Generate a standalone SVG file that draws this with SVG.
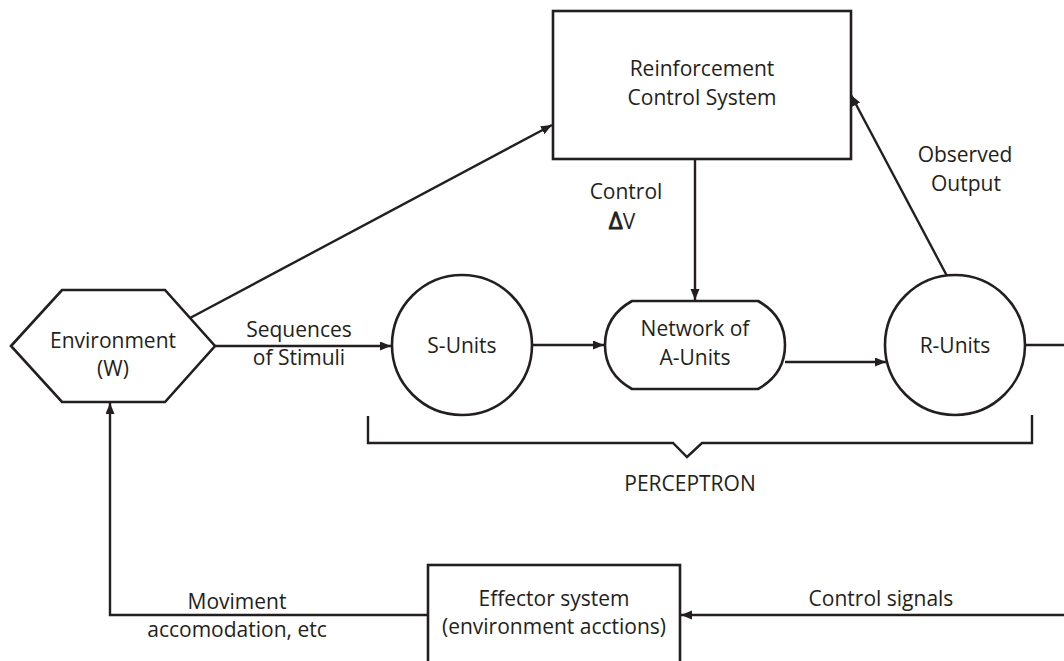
<svg xmlns="http://www.w3.org/2000/svg" width="1064" height="661" viewBox="0 0 1064 661">
  <defs>
    <marker id="arrow" markerUnits="userSpaceOnUse" markerWidth="12" markerHeight="10" refX="11" refY="4.5" orient="auto">
      <path d="M0,0 L11,4.5 L0,9 Z" fill="#231f20"/>
    </marker>
    <style>
      .shape { fill: #ffffff; stroke: #231f20; stroke-width: 2.6; }
      .line { fill: none; stroke: #231f20; stroke-width: 2.4; }
      .arrow { marker-end: url(#arrow); }
      text { font-family: "Open Sans", "Noto Sans", "Liberation Sans", sans-serif; font-size: 21px; fill: #231f20; text-anchor: middle; }
      .delta { font-size: 24px; stroke: #231f20; stroke-width: 0.9; }
    </style>
  </defs>
  <rect width="1064" height="661" fill="#ffffff"/>

  <!-- connectors -->
  <g id="connectors">
    <line class="line arrow" x1="190" y1="318" x2="552" y2="125"/>
    <line class="line arrow" x1="215" y1="346" x2="391" y2="346"/>
    <line class="line arrow" x1="532" y1="345" x2="604" y2="345"/>
    <line class="line arrow" x1="695" y1="159" x2="695" y2="300"/>
    <line class="line arrow" x1="785" y1="362" x2="886" y2="362"/>
    <line class="line arrow" x1="947" y1="276" x2="851" y2="95"/>
    <path class="line arrow" d="M1025,345 H1075 V615 H681"/>
    <path class="line arrow" d="M428,615 H110 V403"/>
    <!-- perceptron bracket -->
    <path class="line" d="M368,416 V443 H673 L687,457 L702,443 H1032 V415"/>
  </g>

  <!-- edge labels -->
  <g id="labels">
    <text x="626" y="199">Control</text>
    <text x="622" y="229"><tspan class="delta">Δ</tspan>V</text>
    <text x="299" y="337">Sequences</text>
    <text x="299" y="365">of Stimuli</text>
    <text x="965" y="162">Observed</text>
    <text x="966" y="191">Output</text>
    <text x="690" y="491">PERCEPTRON</text>
    <text x="237" y="609">Moviment</text>
    <text x="237" y="637">accomodation, etc</text>
    <text x="881" y="606">Control signals</text>
  </g>

  <g id="environment">
    <polygon class="shape" points="11,346 62,290 165,290 215,346 165,402 62,402"/>
    <text x="113" y="348">Environment</text>
    <text x="113" y="376">(W)</text>
  </g>

  <g id="reinforcement">
    <rect class="shape" x="553" y="11" width="298" height="148"/>
    <text x="702" y="76">Reinforcement</text>
    <text x="702" y="105">Control System</text>
  </g>

  <g id="s-units">
    <circle class="shape" cx="462" cy="345" r="70"/>
    <text x="462" y="353">S-Units</text>
  </g>

  <g id="a-units">
    <path class="shape" d="M632,301 L758,301 Q785,316 785,345 Q785,374 758,389 L632,389 Q605,374 605,345 Q605,316 632,301 Z"/>
    <text x="695" y="336">Network of</text>
    <text x="695" y="365">A-Units</text>
  </g>

  <g id="r-units">
    <circle class="shape" cx="955" cy="345" r="70"/>
    <text x="955" y="353">R-Units</text>
  </g>

  <g id="effector">
    <rect class="shape" x="428" y="565" width="252" height="110"/>
    <text x="554" y="606">Effector system</text>
    <text x="554" y="634">(environment acctions)</text>
  </g>
</svg>
